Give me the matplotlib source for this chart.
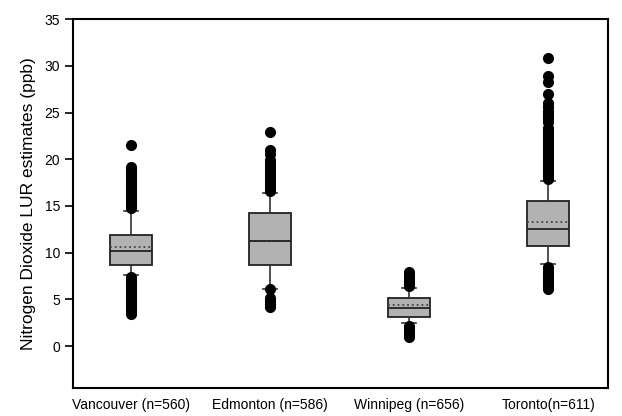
import matplotlib
matplotlib.use('Agg')
from matplotlib import pyplot as plt

plt.rcParams['font.family'] = ['Liberation Sans', 'DejaVu Sans']

cities = ['Vancouver (n=560)', 'Edmonton (n=586)', 'Winnipeg (n=656)', 'Toronto(n=611)']
q1 = [8.7, 8.7, 3.1, 10.7]
medians = [10.2, 11.2, 4.05, 12.5]
means = [10.6, 11.2, 4.35, 13.3]
q3 = [11.85, 14.2, 5.1, 15.5]
whisker_low = [7.65, 6.15, 2.45, 8.75]
whisker_high = [14.5, 16.4, 6.2, 17.7]

fliers_vancouver = [14.8, 15.1, 15.4, 15.7, 16.0, 16.3, 16.6, 16.9, 17.2, 17.5, 17.8,
                    18.1, 18.4, 18.7, 19.0, 19.2, 21.5,
                    7.4, 7.1, 6.8, 6.5, 6.2, 5.9, 5.6, 5.3, 5.0, 4.7, 4.4, 4.1, 3.8, 3.4]
fliers_edmonton = [16.6, 16.9, 17.2, 17.5, 17.8, 18.1, 18.4, 18.7, 19.0, 19.3, 19.6,
                   19.9, 20.6, 21.0, 22.9,
                   6.1, 5.1, 4.8, 4.5, 4.2]
fliers_winnipeg = [6.4, 6.7, 7.0, 7.3, 7.6, 7.9,
                   2.2, 1.9, 1.6, 1.3, 1.0]
fliers_toronto = [17.9, 18.2, 18.5, 18.8, 19.1, 19.4, 19.7, 20.0, 20.3, 20.6, 20.9,
                  21.2, 21.5, 21.8, 22.1, 22.4, 22.7, 23.0, 23.3, 24.0, 24.3, 24.6,
                  24.9, 25.2, 25.6, 26.0, 27.0, 28.3, 28.9, 30.8,
                  8.5, 8.2, 7.9, 7.6, 7.3, 7.0, 6.7, 6.4, 6.1]
fliers = [fliers_vancouver, fliers_edmonton, fliers_winnipeg, fliers_toronto]

stats = []
for i, name in enumerate(cities):
    stats.append({'label': name, 'q1': q1[i], 'med': medians[i], 'mean': means[i],
                  'q3': q3[i], 'whislo': whisker_low[i], 'whishi': whisker_high[i],
                  'fliers': fliers[i]})

fig = plt.figure(figsize=(6.22, 4.16), dpi=100)
ax = fig.add_axes([0.117, 0.067, 0.8605, 0.887])

ax.bxp(stats, positions=[1, 2, 3, 4], widths=0.3, capwidths=0.1,
       patch_artist=True, showmeans=True, meanline=True,
       boxprops=dict(facecolor='#b2b2b2', edgecolor='#222222', linewidth=1.3),
       medianprops=dict(color='#222222', linewidth=1.3, zorder=2.5),
       meanprops=dict(color='#444444', linestyle=':', linewidth=1.3),
       whiskerprops=dict(color='#333333', linewidth=1.2),
       capprops=dict(color='#333333', linewidth=1.2),
       flierprops=dict(marker='o', markerfacecolor='black', markeredgecolor='black',
                       markersize=7, linestyle='none'))

ax.set_xlim(0.58, 4.43)
ax.set_ylim(-4.5, 35)
ax.set_yticks(range(0, 36, 5))
ax.tick_params(axis='y', direction='out', length=6, width=1.2, labelsize=10, pad=3)
ax.tick_params(axis='x', length=0, labelsize=10, pad=7)
ax.set_ylabel('Nitrogen Dioxide LUR estimates (ppb)', fontsize=12.5, labelpad=6)
for s in ax.spines.values():
    s.set_linewidth(1.5)
    s.set_color('black')

fig.savefig('out.png', dpi=100)
